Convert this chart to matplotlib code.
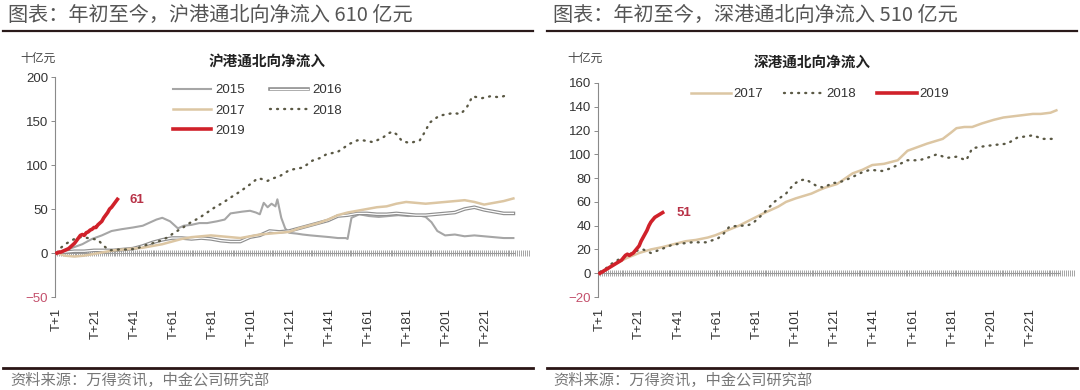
import matplotlib
matplotlib.use("Agg")
import matplotlib.pyplot as plt
from matplotlib.lines import Line2D
from matplotlib.legend_handler import HandlerTuple
from matplotlib.ticker import MultipleLocator

plt.rcParams['font.family'] = ['Liberation Sans', 'Noto Sans CJK SC', 'DejaVu Sans']

# ---------------- data ----------------
x_tick_days = [1, 21, 41, 61, 81, 101, 121, 141, 161, 181, 201, 221]
x_tick_labels = ["T+%d" % d for d in x_tick_days]

# Shanghai connect (left)
sh15_days = [1, 5, 9, 14, 19, 24, 29, 34, 40, 45, 49, 52, 55, 59, 63, 66, 70, 74, 78, 83, 87, 90, 93, 96, 100,
             103, 105, 107, 109, 111, 113, 114, 116, 118, 120, 124, 127, 131, 136, 141, 145, 149, 150, 152, 156,
             161, 166, 171, 176, 181, 186, 190, 193, 196, 200, 205, 210, 215, 220, 225, 230, 235]
sh15_vals = [0, 3, 6, 10, 16, 20, 25, 27, 29, 31, 35, 38, 40, 36, 28, 31, 32, 34, 34, 36, 38, 45, 46, 47, 48,
             46, 44, 57, 52, 56, 53, 61, 40, 28, 23, 22, 21, 20, 19, 18, 17, 17, 16, 40, 44,
             42, 41, 42, 43, 42, 43, 41, 35, 25, 20, 21, 19, 20, 19, 18, 17, 17]

sh16_days = [1, 5, 10, 15, 20, 25, 30, 35, 40, 45, 50, 55, 60, 65, 70, 75, 80, 85, 90, 95, 100, 105, 110, 115,
             120, 125, 130, 135, 140, 145, 150, 155, 160, 165, 170, 175, 180, 185, 190, 195, 200, 205, 210, 215,
             220, 225, 230, 235]
sh16_vals = [0, 1, 2, 2, 3, 3, 3, 4, 5, 8, 12, 15, 17, 17, 16, 17, 16, 14, 13, 13, 18, 20, 25, 24,
             25, 28, 31, 34, 37, 42, 43, 45, 45, 44, 44, 45, 44, 43, 43, 44, 45, 46, 50, 52,
             49, 47, 45, 45]

sh17_days = sh16_days
sh17_vals = [0, -3, -4, -3, -1, 1, 3, 4, 5, 6, 8, 10, 13, 16, 18, 19, 20, 19, 18, 17, 19, 21, 22, 23,
             24, 28, 31, 34, 38, 43, 46, 48, 50, 52, 53, 56, 58, 57, 56, 57, 58, 59, 60, 58,
             55, 57, 59, 62]

sh18_days = [1, 3, 6, 10, 13, 17, 22, 25, 28, 33, 38, 42, 45, 50, 54, 58, 61, 65, 69, 74, 78, 82, 86, 90, 95,
             100, 104, 106, 109, 112, 115, 120, 124, 127, 132, 136, 139, 145, 151, 155, 158, 163, 168, 171,
             173, 175, 178, 182, 187, 190, 192, 197, 204, 208, 211, 214, 219, 223, 228, 233]
sh18_vals = [0, 6, 11, 16, 18, 17, 15, 8, 3, 4, 4, 5, 8, 11, 14, 18, 23, 28, 34, 40, 46, 52, 57, 63, 70,
             78, 85, 84, 82, 85, 87, 94, 96, 97, 105, 108, 112, 115, 124, 128, 128, 126, 131, 136,
             138, 135, 127, 125, 128, 139, 148, 156, 159, 158, 165, 178, 176, 178, 177, 180]

sh19_days = list(range(1, 33))
sh19_vals = [0, 1, 1, 2, 3, 4, 5, 7, 9, 11, 14, 17, 20, 21, 20, 23, 24, 26, 27, 29, 29, 32, 34, 36, 40, 43,
             46, 50, 52, 55, 58, 61]

# Shenzhen connect (right)
sz17_days = [1, 5, 10, 15, 21, 27, 33, 40, 45, 50, 56, 60, 66, 72, 78, 84, 88, 92, 96, 101, 105, 109, 113, 116,
             122, 130, 135, 140, 146, 153, 158, 163, 168, 172, 176, 180, 183, 187, 191, 196, 202, 207, 212,
             217, 222, 226, 231, 234]
sz17_vals = [0, 4, 9, 13, 17, 20, 22, 25, 27, 28, 30, 32, 36, 40, 45, 50, 53, 56, 60, 63, 65, 67, 70, 72,
             75, 84, 87, 91, 92, 95, 103, 106, 109, 111, 113, 118, 122, 123, 123, 126, 129, 131, 132,
             133, 134, 134, 135, 137]

sz18_days = [1, 4, 7, 11, 15, 20, 23, 27, 32, 38, 43, 48, 55, 61, 64, 67, 72, 76, 79, 83, 86, 90, 96, 100,
             103, 106, 108, 111, 115, 120, 122, 126, 130, 135, 139, 145, 149, 153, 158, 164, 168, 173, 178,
             183, 188, 191, 194, 198, 203, 209, 214, 218, 222, 227, 230, 234]
sz18_vals = [1, 4, 8, 12, 15, 19, 20, 17, 20, 24, 25, 26, 26, 29, 33, 39, 40, 40, 42, 48, 53, 60, 67, 75,
             78, 79, 77, 74, 72, 76, 76, 78, 81, 85, 87, 86, 88, 91, 95, 95, 97, 100, 97,
             98, 95, 105, 106, 107, 108, 109, 114, 115, 116, 113, 113, 113]

sz19_days = list(range(1, 34))
sz19_vals = [0, 1, 2, 3, 4, 5, 6, 7, 8, 9, 10, 11, 13, 15, 16, 15, 16, 17, 19, 21, 23, 27, 30, 33, 36, 40,
             43, 45, 47, 48, 49, 50, 51]

# ---------------- styles ----------------
C15 = '#a6a6a6'
C16 = '#8f8f8f'
C17 = '#dcc6a3'
C18 = '#5a5844'
C19 = '#d0212a'
DOT = (0, (0.4, 2.6))
NEG = '#c4506c'

W, H = 1080, 390
fig = plt.figure(figsize=(W / 100, H / 100), dpi=100)
fig.patch.set_facecolor('white')


def fx(px):
    return px / W


def fy(py):
    return 1 - py / H


def style_axes(ax, ymin, ymax, ystep):
    ax.set_xlim(0, 243)
    ax.set_ylim(ymin, ymax)
    for s in ['top', 'right']:
        ax.spines[s].set_visible(False)
    ax.spines['left'].set_color('#8a8a8a')
    ax.spines['left'].set_linewidth(0.8)
    ax.spines['bottom'].set_position(('data', 0))
    ax.spines['bottom'].set_color('#9a9a9a')
    ax.spines['bottom'].set_linewidth(0.8)
    ax.spines['bottom'].set_bounds(0, 236)
    ax.xaxis.set_major_locator(MultipleLocator(1))
    ax.tick_params(axis='x', which='major', length=5, width=0.55, direction='inout',
                   color='#8c8c8c', labelbottom=False)
    ax.yaxis.set_major_locator(MultipleLocator(ystep))
    ax.tick_params(axis='y', length=3, width=0.7, direction='out', color='#8a8a8a',
                   labelsize=9.5, labelcolor='#333333', pad=2)
    sec = ax.secondary_xaxis('bottom')
    sec.set_xticks(x_tick_days)
    sec.set_xticklabels(x_tick_labels, rotation=90, fontsize=9.5, color='#333333')
    sec.tick_params(length=0, pad=8)
    sec.spines['bottom'].set_visible(False)
    ax.set_facecolor('none')


def color_neg(ax):
    fig.canvas.draw()
    for lbl in ax.get_yticklabels():
        t = lbl.get_text().replace('\u2212', '-')
        if t.startswith('-'):
            lbl.set_color(NEG)


# ---------------- left panel ----------------
axL = fig.add_axes([fx(55), fy(297), fx(474), (297 - 77) / H])
style_axes(axL, -50, 200, 50)

l15, = axL.plot(sh15_days, sh15_vals, color=C15, lw=1.5, zorder=3)
l16a, = axL.plot(sh16_days, sh16_vals, color=C16, lw=2.6, zorder=3, solid_joinstyle='round')
l16b, = axL.plot(sh16_days, sh16_vals, color='white', lw=0.9, zorder=3.1)
l17, = axL.plot(sh17_days, sh17_vals, color=C17, lw=1.8, zorder=3.2)
l18, = axL.plot(sh18_days, sh18_vals, color=C18, lw=1.7, linestyle=DOT,
                dash_capstyle='round', zorder=3.3)
l19, = axL.plot(sh19_days, sh19_vals, color=C19, lw=2.6, zorder=4)
axL.text(38, 60, '61', color='#b83247', fontsize=9.5, fontweight='bold', ha='left', va='center')

legL = axL.legend([l15, l17, l19, (l16a, l16b), l18], ['2015', '2017', '2019', '2016', '2018'],
                  ncol=2, loc='upper left', bbox_to_anchor=(fx(173), fy(84)),
                  bbox_transform=fig.transFigure, frameon=False, fontsize=9.5,
                  handlelength=2.9, handletextpad=0.3, columnspacing=1.9, labelspacing=0.62,
                  borderpad=0, borderaxespad=0,
                  handler_map={tuple: HandlerTuple(ndivide=1, pad=0)})
for t in legL.get_texts():
    t.set_color('#333333')

# ---------------- right panel ----------------
axR = fig.add_axes([fx(598), fy(297), fx(476), (297 - 83) / H])
style_axes(axR, -20, 160, 20)

r17, = axR.plot(sz17_days, sz17_vals, color=C17, lw=1.8, zorder=3)
r18, = axR.plot(sz18_days, sz18_vals, color=C18, lw=1.7, linestyle=DOT,
                dash_capstyle='round', zorder=3.3)
r19, = axR.plot(sz19_days, sz19_vals, color=C19, lw=2.6, zorder=4)
axR.text(40, 51, '51', color='#b83247', fontsize=9.5, fontweight='bold', ha='left', va='center')

legR = axR.legend([r17, r18, r19], ['2017', '2018', '2019'], ncol=3, loc='upper left',
                  bbox_to_anchor=(fx(691), fy(88)), bbox_transform=fig.transFigure,
                  frameon=False, fontsize=9.5, handlelength=3.0, handletextpad=0.2,
                  columnspacing=1.6, borderpad=0, borderaxespad=0)
for t in legR.get_texts():
    t.set_color('#333333')

color_neg(axL)
color_neg(axR)

# ---------------- texts and frame lines ----------------
cjk = ['Noto Sans CJK SC', 'DejaVu Sans']
fig.text(fx(8), fy(15), '图表：年初至今，沪港通北向净流入 610 亿元', family=cjk, fontsize=14.5,
         color='#555555', ha='left', va='center', style='italic')
fig.text(fx(553), fy(15), '图表：年初至今，深港通北向净流入 510 亿元', family=cjk, fontsize=14.5,
         color='#555555', ha='left', va='center', style='italic')

fig.text(fx(20), fy(58), '十亿元', family=cjk, fontsize=8.5, color='#444444', ha='left', va='center')
fig.text(fx(567), fy(58), '十亿元', family=cjk, fontsize=8.5, color='#444444', ha='left', va='center')
fig.text(fx(267), fy(62), '沪港通北向净流入', family=cjk, fontsize=10.5, color='#222222',
         ha='center', va='center', fontweight='bold')
fig.text(fx(812), fy(62), '深港通北向净流入', family=cjk, fontsize=10.5, color='#222222',
         ha='center', va='center', fontweight='bold')

for x0, x1 in [(3, 533), (547, 1077)]:
    fig.add_artist(Line2D([fx(x0), fx(x1)], [fy(31), fy(31)], color='#2a1a1a', lw=1.6))
    fig.add_artist(Line2D([fx(x0), fx(x1)], [fy(368), fy(368)], color='#2a1515', lw=2.0))

fig.text(fx(10), fy(380), '资料来源：万得资讯，中金公司研究部', family=cjk, fontsize=11,
         color='#777777', ha='left', va='center', style='italic')
fig.text(fx(553), fy(380), '资料来源：万得资讯，中金公司研究部', family=cjk, fontsize=11,
         color='#777777', ha='left', va='center', style='italic')

fig.savefig('out.png', dpi=100, facecolor='white')
